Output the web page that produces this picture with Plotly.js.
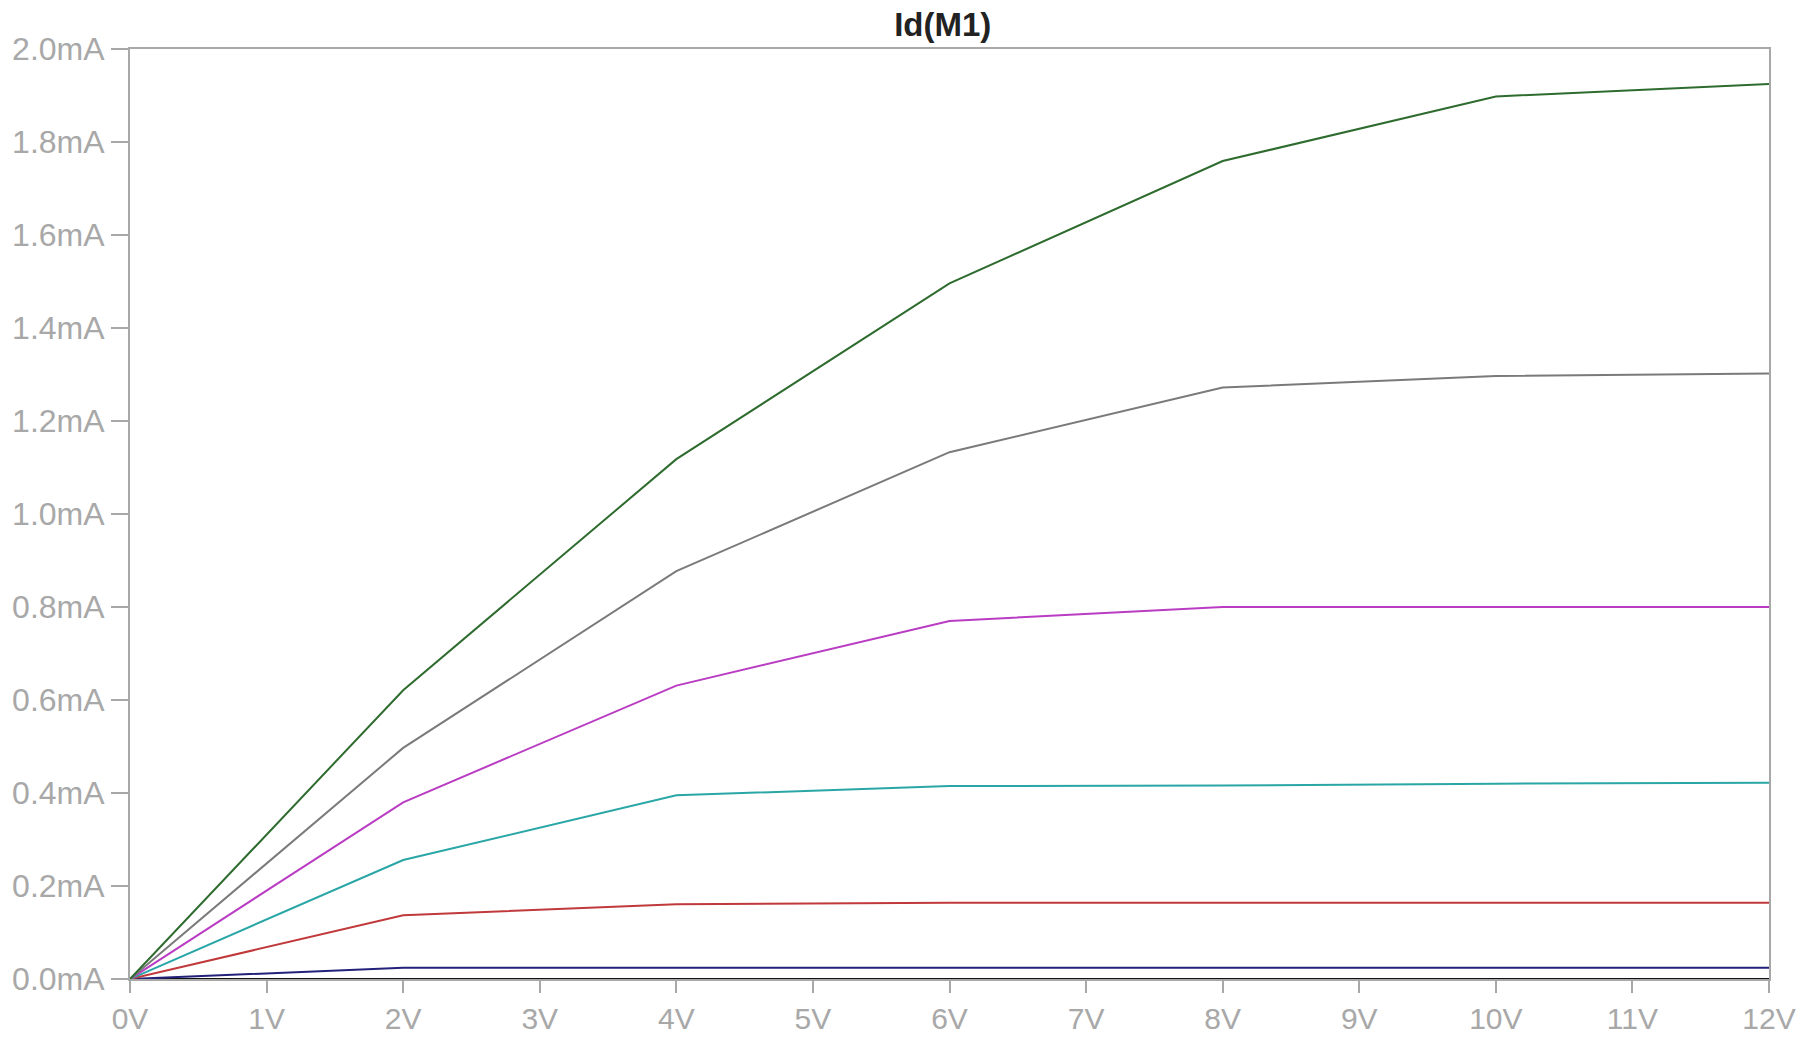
<!DOCTYPE html>
<html>
<head>
<meta charset="utf-8">
<script src="https://cdn.plot.ly/plotly-3.0.1.min.js"></script>
<style>
  html, body { margin: 0; padding: 0; background: #ffffff; }
  #chart { width: 1813px; height: 1038px; }
</style>
</head>
<body>
<div id="chart"></div>
<script>
// Drain voltage sweep points (V)
const vds = [0, 2, 4, 6, 8, 10, 12];

// Drain current Id(M1) in mA, one array per stepped curve
const idGreen   = [0, 0.621, 1.118, 1.496, 1.759, 1.898, 1.925];
const idGray    = [0, 0.497, 0.877, 1.133, 1.272, 1.297, 1.302];
const idMagenta = [0, 0.380, 0.631, 0.770, 0.800, 0.800, 0.800];
const idCyan    = [0, 0.256, 0.395, 0.415, 0.416, 0.420, 0.422];
const idRed     = [0, 0.137, 0.161, 0.164, 0.164, 0.164, 0.164];
const idNavy    = [0, 0.024, 0.024, 0.024, 0.024, 0.024, 0.024];
const idBlack   = [0, 0, 0, 0, 0, 0, 0];

// Axis ticks
const xTickVals = [0, 1, 2, 3, 4, 5, 6, 7, 8, 9, 10, 11, 12];
const xTickText = ["0V", "1V", "2V", "3V", "4V", "5V", "6V", "7V", "8V", "9V", "10V", "11V", "12V"];
const yTickVals = [0, 0.2, 0.4, 0.6, 0.8, 1.0, 1.2, 1.4, 1.6, 1.8, 2.0];
const yTickText = ["0.0mA", "0.2mA", "0.4mA", "0.6mA", "0.8mA", "1.0mA", "1.2mA", "1.4mA", "1.6mA", "1.8mA", "2.0mA"];

const series = [
  { y: idBlack,   color: "#111111" },
  { y: idNavy,    color: "#22227a" },
  { y: idRed,     color: "#c0393b" },
  { y: idCyan,    color: "#2aa6a6" },
  { y: idMagenta, color: "#b93cc3" },
  { y: idGray,    color: "#7a7a7a" },
  { y: idGreen,   color: "#2e6b2e" }
];

const traces = series.map(s => ({
  x: vds,
  y: s.y,
  type: "scatter",
  mode: "lines",
  line: { color: s.color, width: 2 },
  hoverinfo: "x+y",
  showlegend: false
}));

const yTickFont = { family: "Liberation Sans, Arial, sans-serif", size: 32, color: "#a8a8a8" };
const xTickFont = { family: "Liberation Sans, Arial, sans-serif", size: 30, color: "#a8a8a8" };

const layout = {
  width: 1813,
  height: 1038,
  margin: { l: 130, r: 44, t: 49, b: 59 },
  paper_bgcolor: "#ffffff",
  plot_bgcolor: "#ffffff",
  title: {
    text: "<b>Id(M1)</b>",
    font: { family: "Liberation Sans, Arial, sans-serif", size: 33, color: "#222222" },
    x: 0.52, xref: "container", xanchor: "center",
    y: 0.976, yref: "container", yanchor: "middle"
  },
  xaxis: {
    range: [0, 12],
    tickmode: "array",
    tickvals: xTickVals,
    ticktext: xTickText,
    ticks: "outside",
    ticklen: 12,
    tickwidth: 2,
    tickcolor: "#a8a8a8",
    tickfont: xTickFont,
    showgrid: false,
    zeroline: false,
    showline: true,
    linecolor: "#a8a8a8",
    linewidth: 2,
    mirror: true
  },
  yaxis: {
    range: [0, 2.0],
    tickmode: "array",
    tickvals: yTickVals,
    ticktext: yTickText,
    ticks: "outside",
    ticklen: 17,
    tickwidth: 2,
    tickcolor: "#a8a8a8",
    tickfont: yTickFont,
    showgrid: false,
    zeroline: false,
    showline: true,
    linecolor: "#a8a8a8",
    linewidth: 2,
    mirror: true
  }
};

Plotly.newPlot("chart", traces, layout, { displayModeBar: false, staticPlot: false });
</script>
</body>
</html>
